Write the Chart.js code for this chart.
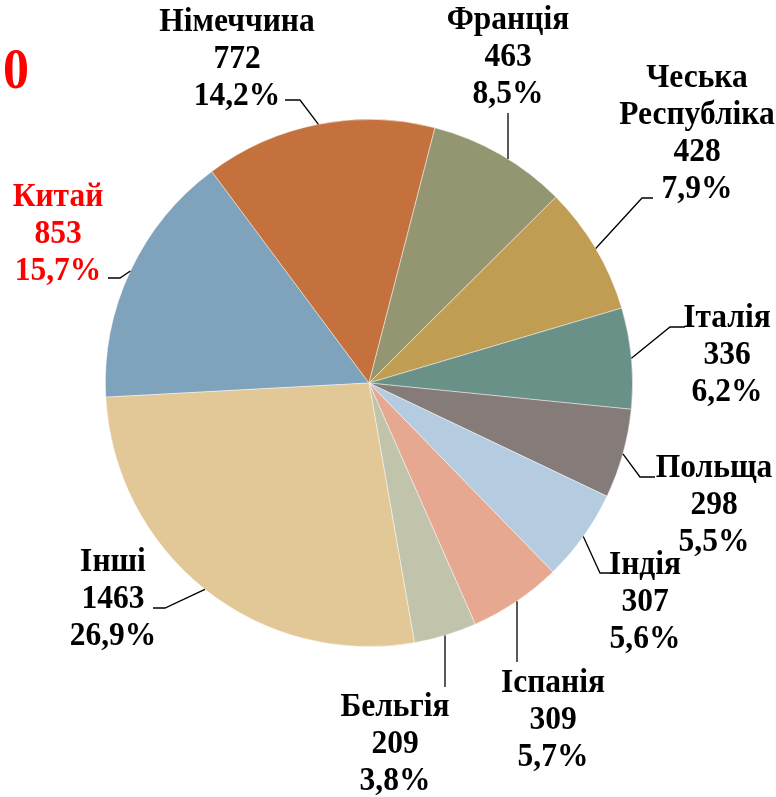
<!DOCTYPE html>
<html>
<head>
<meta charset="utf-8">
<script src="https://cdn.jsdelivr.net/npm/chart.js@4/dist/chart.umd.min.js"></script>
<style>
  html, body { margin: 0; padding: 0; background: #ffffff; }
  #wrap { width: 776px; height: 797px; position: relative; }
  #probe { position: absolute; left: -1000px; top: 0; font: bold 30px "Liberation Serif"; }
</style>
</head>
<body>
<div id="probe">Німеччина 0123456789</div>
<div id="wrap"><canvas id="c" width="776" height="797"></canvas></div>
<script>
// ---- data ----
const categories = ['Китай', 'Німеччина', 'Франція', 'Чеська\nРеспубліка', 'Італія', 'Польща', 'Індія', 'Іспанія', 'Бельгія', 'Інші'];
const values = [853, 772, 463, 428, 336, 298, 307, 309, 209, 1463];
const sliceColors = ['#7fa2bd', '#c5713d', '#939670', '#c19d53', '#6a9188', '#857b79', '#b5cbe0', '#e6a891', '#c1c4aa', '#e2c797'];
const labelColors = ['#ff0000', '#000000', '#000000', '#000000', '#000000', '#000000', '#000000', '#000000', '#000000', '#000000'];
const titleFragment = '0';

// ---- label layout (text centre x, first line centre y, leader path, vertical attach) ----
const labelLayout = [
  { x: 58,  y: 197, lead: [[108, 278], [120, 278]] },
  { x: 237, y: 22,  lead: [[285, 100], [300, 100]] },
  { x: 508, y: 20,  lead: [[508, 113]], vertical: true },
  { x: 697, y: 78,  lead: [[653, 198], [642, 198]] },
  { x: 727, y: 318, lead: [[685, 327], [670, 327]] },
  { x: 714, y: 468, lead: [[655, 477], [640, 477]] },
  { x: 645, y: 565, lead: [[613, 573], [600, 573]] },
  { x: 553, y: 683, lead: [[517, 662]], vertical: true },
  { x: 395, y: 707, lead: [[445, 687]], vertical: true },
  { x: 113, y: 562, lead: [[153, 608], [165, 608]] }
];

const total = values.reduce((a, b) => a + b, 0);
const pct = v => (v / total * 100).toFixed(1).replace('.', ',') + '%';

const FONT_FAMILY = '"Liberation Serif"';
const FONT_PX = 31.5;
const STRETCH = 1.08;
const LINE_H = 37;

function drawText(ctx, txt, x, y, color, px) {
  ctx.save();
  ctx.translate(x, y);
  ctx.scale(1, STRETCH);
  ctx.fillStyle = color;
  ctx.font = 'bold ' + px + 'px ' + FONT_FAMILY;
  ctx.fillText(txt, 0, 0);
  ctx.restore();
}

const labelPlugin = {
  id: 'pieLabels',
  afterDraw(chart) {
    const ctx = chart.ctx;
    const meta = chart.getDatasetMeta(0);
    ctx.save();
    ctx.textAlign = 'right';
    ctx.textBaseline = 'middle';
    drawText(ctx, titleFragment, 29, 73, '#ff0000', 52);

    ctx.textAlign = 'center';
    meta.data.forEach((arc, i) => {
      const lay = labelLayout[i];
      const cx = arc.x, cy = arc.y, r = arc.outerRadius;
      const mid = (arc.startAngle + arc.endAngle) / 2;
      let ax, ay;
      if (lay.vertical) {
        const lx = lay.lead[0][0];
        const dx = lx - cx;
        const dy = Math.sqrt(Math.max(0, r * r - dx * dx));
        ax = lx;
        ay = Math.sin(mid) < 0 ? cy - dy : cy + dy;
      } else {
        ax = cx + Math.cos(mid) * r;
        ay = cy + Math.sin(mid) * r;
      }
      ctx.beginPath();
      ctx.strokeStyle = '#000000';
      ctx.lineWidth = 1.3;
      ctx.moveTo(lay.lead[0][0], lay.lead[0][1]);
      for (let k = 1; k < lay.lead.length; k++) ctx.lineTo(lay.lead[k][0], lay.lead[k][1]);
      ctx.lineTo(ax, ay);
      ctx.stroke();

      const lines = categories[i].split('\n').concat([String(values[i]), pct(values[i])]);
      lines.forEach((ln, j) => {
        drawText(ctx, ln, lay.x, lay.y + j * LINE_H, labelColors[i], FONT_PX);
      });
    });
    ctx.restore();
  }
};

function build() {
  new Chart(document.getElementById('c'), {
    type: 'pie',
    data: {
      labels: categories,
      datasets: [{
        data: values,
        backgroundColor: sliceColors,
        borderColor: 'rgba(255,255,255,0.55)',
        borderWidth: 0.8
      }]
    },
    options: {
      responsive: false,
      animation: false,
      rotation: 266.92,
      layout: { padding: { left: 105, right: 143, top: 119, bottom: 150 } },
      plugins: { legend: { display: false }, tooltip: { enabled: false } }
    },
    plugins: [labelPlugin]
  });
}

if (document.fonts && document.fonts.load) {
  document.fonts.load('bold 30px "Liberation Serif"', 'Німеччина 0123').then(build, build);
} else {
  build();
}
</script>
</body>
</html>
